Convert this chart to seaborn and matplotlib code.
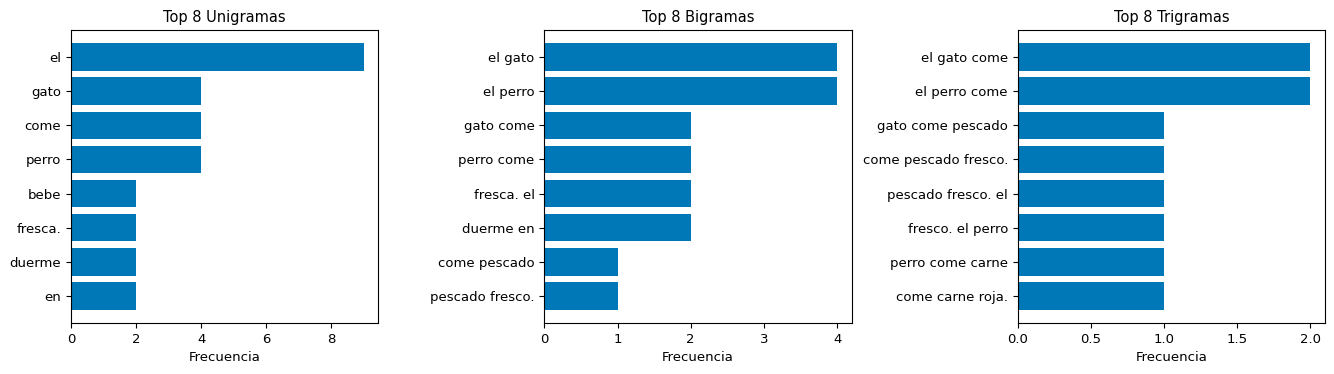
import matplotlib
matplotlib.use("Agg")
import matplotlib.pyplot as plt
import seaborn as sns

uni_labels = ["el", "gato", "come", "perro", "bebe", "fresca.", "duerme", "en"]
uni_counts = [9, 4, 4, 4, 2, 2, 2, 2]

bi_labels = ["el gato", "el perro", "gato come", "perro come", "fresca. el",
             "duerme en", "come pescado", "pescado fresco."]
bi_counts = [4, 4, 2, 2, 2, 2, 1, 1]

tri_labels = ["el gato come", "el perro come", "gato come pescado",
              "come pescado fresco.", "pescado fresco. el", "fresco. el perro",
              "perro come carne", "come carne roja."]
tri_counts = [2, 2, 1, 1, 1, 1, 1, 1]

titles = ["Top 8 Unigramas", "Top 8 Bigramas", "Top 8 Trigramas"]
bar_color = "#0077b6"

fig, axes = plt.subplots(1, 3, figsize=(13.34, 3.74), dpi=100)
fig.subplots_adjust(left=0.0532, right=0.9933, top=0.9198, bottom=0.1364, wspace=0.54)

panels = [(uni_labels, uni_counts), (bi_labels, bi_counts), (tri_labels, tri_counts)]
for ax, (labels, counts), title in zip(axes, panels, titles):
    sns.barplot(x=counts, y=labels, orient="h", color=bar_color, saturation=1,
                width=0.8, ax=ax)
    n = len(labels)
    pad = 0.05 * (n - 1 + 0.8)
    ax.set_ylim(n - 1 + 0.4 + pad, -0.4 - pad)
    ax.set_xlim(0, max(counts) * 1.05)
    ax.set_title(title, fontsize=10.5)
    ax.set_xlabel("Frecuencia", fontsize=9.5)
    ax.set_ylabel("")
    ax.tick_params(labelsize=9.5)

fig.savefig("out.png", dpi=100)
